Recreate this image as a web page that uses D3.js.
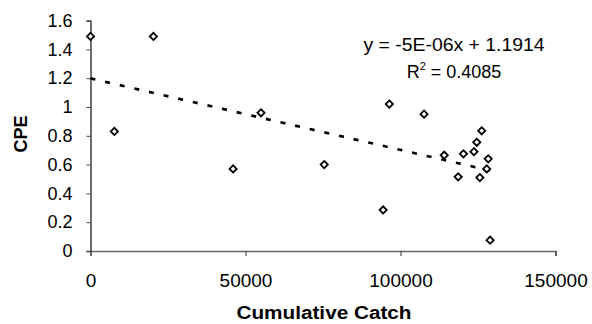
<!DOCTYPE html>
<html>
<head>
<meta charset="utf-8">
<script src="https://cdn.jsdelivr.net/npm/d3@7"></script>
<style>
  body { margin: 0; background: #fff; }
  svg { display: block; font-family: "Liberation Sans", Arial, sans-serif; }
</style>
</head>
<body>
<div id="chart"></div>
<script>
// cumulative catch vs CPE
const cumCatch = [0, 7700, 20300, 46000, 55000, 75400, 94400, 96400, 107600,
  114100, 118600, 120300, 123700, 124600, 125600, 126200, 127800, 128300, 128900];
const cpe = [1.49, 0.83, 1.49, 0.57, 0.96, 0.60, 0.285, 1.02, 0.95,
  0.665, 0.515, 0.675, 0.69, 0.755, 0.51, 0.835, 0.57, 0.64, 0.075];

const xTicks = [0, 50000, 100000, 150000];
const yTicks = [0, 0.2, 0.4, 0.6, 0.8, 1, 1.2, 1.4, 1.6];
const eqText = "y = -5E-06x + 1.1914";
const r2Value = "0.4085";

const W = 592, H = 324;
const svg = d3.select("#chart").append("svg")
  .attr("width", W)
  .attr("height", H);

const x = d3.scaleLinear().domain([0, 150000]).range([90.5, 555.5]);
const y = d3.scaleLinear().domain([0, 1.6]).range([251, 20.6]);

// y axis
const yAxis = svg.append("g")
  .attr("transform", `translate(${x(0)},0)`)
  .call(d3.axisLeft(y).tickValues(yTicks).tickSize(4).tickPadding(14)
    .tickFormat(d => String(+d.toFixed(1))));
yAxis.select(".domain").attr("stroke", "#222").attr("stroke-width", 1.3);
yAxis.selectAll(".tick line").attr("stroke", "#444");
yAxis.selectAll("text").attr("font-size", 18).attr("fill", "#000");

// x axis
const xAxis = svg.append("g")
  .attr("transform", `translate(0,${y(0)})`)
  .call(d3.axisBottom(x).tickValues(xTicks).tickSize(5).tickPadding(18)
    .tickFormat(d3.format("d")));
xAxis.select(".domain").attr("stroke", "#666").attr("stroke-width", 1.4);
xAxis.selectAll(".tick line").attr("stroke", "#333");
xAxis.selectAll("text").attr("font-size", 19).attr("fill", "#000");

// linear trend from the points
const n = cumCatch.length;
const mx = d3.mean(cumCatch), my = d3.mean(cpe);
let sxy = 0, sxx = 0;
for (let i = 0; i < n; i++) {
  sxy += (cumCatch[i] - mx) * (cpe[i] - my);
  sxx += (cumCatch[i] - mx) ** 2;
}
const slope = sxy / sxx, icept = my - slope * mx;
const xEnd = d3.max(cumCatch);

svg.append("path")
  .attr("d", d3.line()([[x(0), y(icept)], [x(xEnd), y(icept + slope * xEnd)]]))
  .attr("stroke", "#000")
  .attr("stroke-width", 2.6)
  .attr("stroke-dasharray", "5,10")
  .attr("fill", "none");

// points
const diamond = d3.symbol().type(d3.symbolSquare).size(26);
svg.selectAll("path.pt")
  .data(d3.range(n))
  .enter()
  .append("path")
  .attr("class", "pt")
  .attr("d", diamond)
  .attr("transform", i => `translate(${x(cumCatch[i])},${y(cpe[i])}) rotate(45)`)
  .attr("fill", "#fff")
  .attr("stroke", "#000")
  .attr("stroke-width", 1.8);

// equation
svg.append("text")
  .attr("x", 454).attr("y", 51)
  .attr("text-anchor", "middle")
  .attr("font-size", 18)
  .attr("textLength", 181)
  .attr("lengthAdjust", "spacingAndGlyphs")
  .text(eqText);

const r2 = svg.append("text")
  .attr("x", 454).attr("y", 78)
  .attr("text-anchor", "middle")
  .attr("font-size", 18);
r2.append("tspan").text("R");
r2.append("tspan").attr("font-size", 11).attr("dy", -8).text("2");
r2.append("tspan").attr("dy", 8).text(" = " + r2Value);

// axis titles
svg.append("text")
  .attr("transform", "translate(27,134) rotate(-90)")
  .attr("text-anchor", "middle")
  .attr("font-size", 18)
  .attr("font-weight", "bold")
  .text("CPE");

svg.append("text")
  .attr("x", 324).attr("y", 319)
  .attr("text-anchor", "middle")
  .attr("font-size", 18)
  .attr("font-weight", "bold")
  .attr("textLength", 175)
  .attr("lengthAdjust", "spacingAndGlyphs")
  .text("Cumulative Catch");
</script>
</body>
</html>
